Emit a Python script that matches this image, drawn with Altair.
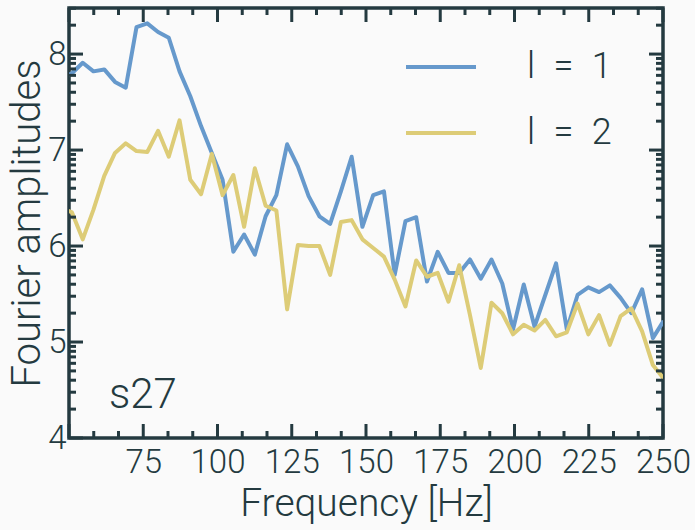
import math

import altair as alt
import pandas as pd

# Frequency grid of the spectrum [Hz]
freq = [47.38, 51.00, 54.62, 58.24, 61.87, 65.49, 69.11, 72.73, 76.35, 79.98,
        83.60, 87.22, 90.84, 94.46, 98.09, 101.71, 105.33, 108.95, 112.57, 116.20,
        119.82, 123.44, 127.06, 130.68, 134.31, 137.93, 141.55, 145.17, 148.79, 152.42,
        156.04, 159.66, 163.28, 166.90, 170.53, 174.15, 177.77, 181.39, 185.01, 188.64,
        192.26, 195.88, 199.50, 203.12, 206.75, 210.37, 213.99, 217.61, 221.23, 224.86,
        228.48, 232.10, 235.72, 239.34, 242.97, 246.59, 250.21]

# Fourier amplitudes (log10) for the two degrees
amp_l1 = [7.74, 7.80, 7.91, 7.82, 7.84, 7.71, 7.65, 8.28, 8.32, 8.23,
          8.17, 7.82, 7.56, 7.25, 6.97, 6.69, 5.94, 6.12, 5.91, 6.31,
          6.53, 7.06, 6.83, 6.52, 6.31, 6.23, 6.57, 6.93, 6.20, 6.53,
          6.57, 5.70, 6.26, 6.30, 5.63, 5.94, 5.72, 5.72, 5.86, 5.66,
          5.86, 5.61, 5.13, 5.60, 5.16, 5.49, 5.82, 5.13, 5.49, 5.57,
          5.52, 5.59, 5.46, 5.30, 5.55, 5.04, 5.22]
amp_l2 = [6.40, 6.35, 6.07, 6.38, 6.73, 6.97, 7.07, 6.99, 6.98, 7.20,
          6.93, 7.31, 6.69, 6.54, 6.96, 6.53, 6.74, 6.20, 6.81, 6.42,
          6.37, 5.34, 6.01, 6.00, 6.00, 5.70, 6.25, 6.27, 6.07, 5.98,
          5.89, 5.65, 5.37, 5.85, 5.68, 5.72, 5.42, 5.80, 5.28, 4.73,
          5.41, 5.30, 5.08, 5.18, 5.12, 5.23, 5.06, 5.10, 5.40, 5.08,
          5.28, 4.97, 5.27, 5.35, 5.11, 4.76, 4.62]

series_names = ["l = 1", "l = 2"]
series_colors = ["#6699cc", "#ddcc77"]
panel_label = ["s27"]

x_label_values = [75, 100, 125, 150, 175, 200, 225, 250]
y_label_values = [4, 5, 6, 7, 8]

X_DOMAIN = [50, 250]
Y_DOMAIN = [4, 8.48]

# major and minor tick positions
x_major = [50] + x_label_values
x_minor = [50 + 25 * k / 3 for k in range(25) if k % 3 != 0]
y_major = y_label_values
y_minor = [n + math.log10(m) for n in range(4, 9) for m in range(2, 10)
           if n + math.log10(m) < Y_DOMAIN[1]]

W, H = 594, 430
INK = "#243a40"
FONT = "Roboto"
MAJOR_LEN, MINOR_LEN = 14, 7
LINE_W = 4

df = pd.DataFrame({
    "freq": freq * 2,
    "amp": amp_l1 + amp_l2,
    "series": [series_names[0]] * len(freq) + [series_names[1]] * len(freq),
})

xs = alt.Scale(domain=X_DOMAIN, nice=False, zero=False)
ys = alt.Scale(domain=Y_DOMAIN, nice=False, zero=False)

# shared axis definitions (labels only; ticks are drawn as rules)
x_axis = alt.Axis(
    values=x_label_values, ticks=False, domain=False, grid=False,
    labelFontSize=33, labelPadding=8, labelFlush=False,
    title="Frequency [Hz]", titleFontSize=39, titlePadding=5,
)
y_axis = alt.Axis(
    values=y_label_values, ticks=False, domain=False, grid=False,
    labelFontSize=33, labelPadding=3, labelFlush=False,
    title="Fourier amplitudes", titleFontSize=40, titlePadding=0,
)

lines = alt.Chart(df).mark_line(
    clip=True, strokeWidth=LINE_W, strokeJoin="round"
).encode(
    x=alt.X("freq:Q", scale=xs, axis=x_axis),
    y=alt.Y("amp:Q", scale=ys, axis=y_axis),
    color=alt.Color("series:N", scale=alt.Scale(domain=series_names, range=series_colors),
                    legend=alt.Legend(
                        title=None, orient="none", legendX=335, legendY=26,
                        symbolType="stroke", symbolSize=4900, symbolStrokeWidth=LINE_W,
                        labelFontSize=36, labelFont=FONT, labelFontWeight=300,
                        labelColor=INK, labelOffset=49, clipHeight=66, rowPadding=0,
                        padding=0,
                        labelExpr="replace(datum.label, / /g, '\u2002')",
                    )),
    detail="series:N",
)


def x_ticks(values, length):
    src = alt.Chart(pd.DataFrame({"t": values}))
    bottom = src.mark_rule(color=INK, strokeWidth=3).encode(
        x=alt.X("t:Q", scale=xs, axis=x_axis), y=alt.value(H), y2=alt.value(H - length))
    top = src.mark_rule(color=INK, strokeWidth=3).encode(
        x=alt.X("t:Q", scale=xs, axis=x_axis), y=alt.value(0), y2=alt.value(length))
    return [bottom, top]


def y_ticks(values, length):
    src = alt.Chart(pd.DataFrame({"t": values}))
    left = src.mark_rule(color=INK, strokeWidth=3).encode(
        y=alt.Y("t:Q", scale=ys, axis=y_axis), x=alt.value(0), x2=alt.value(length))
    right = src.mark_rule(color=INK, strokeWidth=3).encode(
        y=alt.Y("t:Q", scale=ys, axis=y_axis), x=alt.value(W), x2=alt.value(W - length))
    return [left, right]


label = alt.Chart(pd.DataFrame({"text": panel_label})).mark_text(
    font=FONT, fontSize=42, fontWeight=300, color=INK, align="left", baseline="alphabetic"
).encode(text="text:N", x=alt.value(40), y=alt.value(400))

layers = [lines] + x_ticks(x_major, MAJOR_LEN) + x_ticks(x_minor, MINOR_LEN) \
    + y_ticks(y_major, MAJOR_LEN) + y_ticks(y_minor, MINOR_LEN) + [label]

chart = alt.layer(*layers).properties(
    width=W, height=H,
    autosize=alt.AutoSizeParams(type="none"),
    padding={"left": 69, "top": 8, "right": 32, "bottom": 92},
    background="#fafafa",
).configure_view(
    stroke=INK, strokeWidth=3.5,
).configure_axis(
    labelFont=FONT, labelFontWeight=300, labelColor=INK,
    titleFont=FONT, titleFontWeight=300, titleColor=INK,
)

chart.save("out.html", embed_options={"renderer": "svg", "actions": False})
